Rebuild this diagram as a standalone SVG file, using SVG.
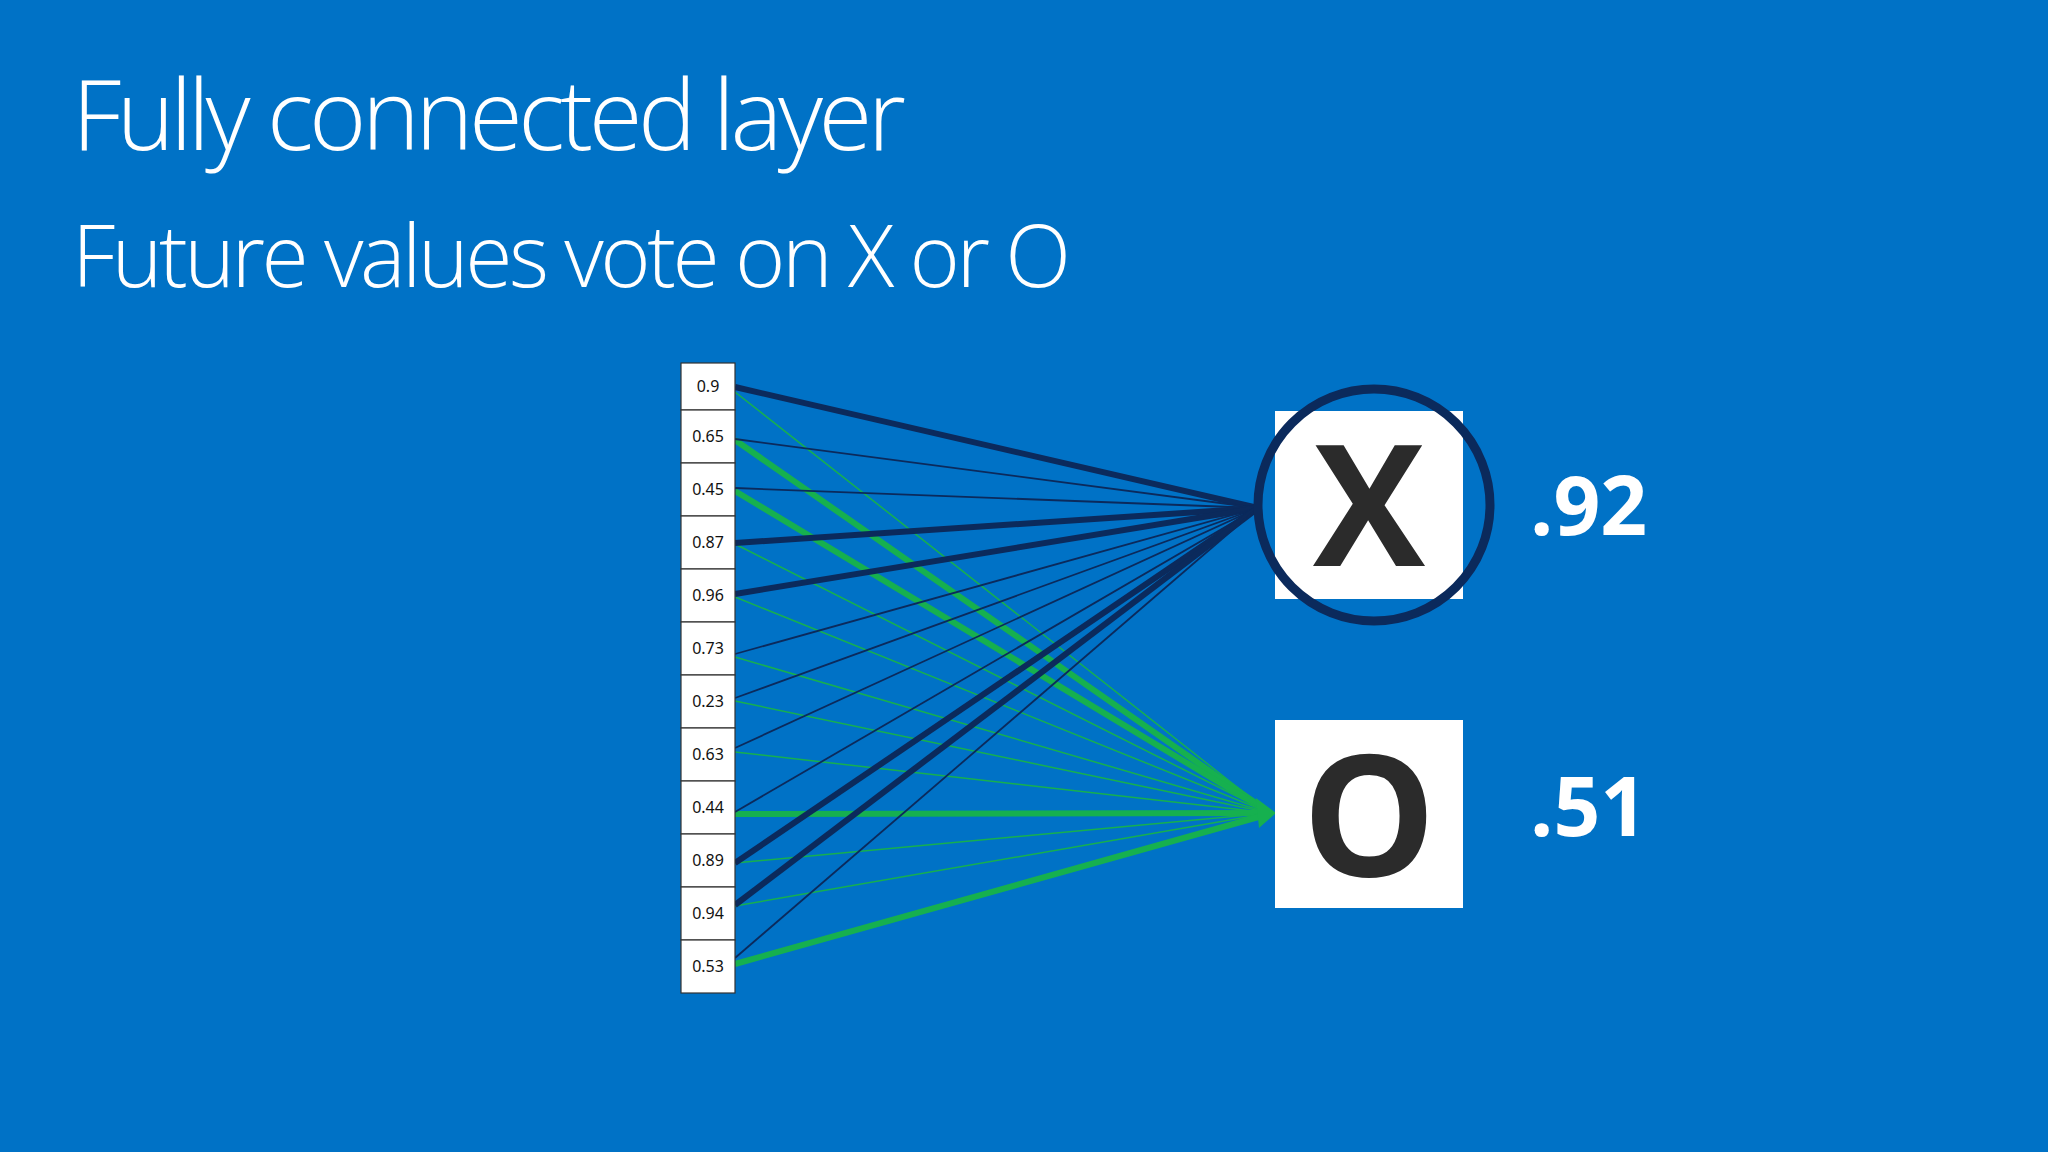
<svg xmlns="http://www.w3.org/2000/svg" width="2048" height="1152" viewBox="0 0 2048 1152">
<style>
.t{fill:#fff;font-family:"Open Sans","Liberation Sans",sans-serif;font-weight:300}
.c{fill:#fff;stroke:#333;stroke-width:1.2}
.cl{font-family:"Noto Sans","Liberation Sans",sans-serif;font-size:16px;fill:#111;text-anchor:middle}
.d{stroke:#0b2a5c;stroke-width:1.8;fill:none}
.D{stroke:#0b2a5c;stroke-width:6;fill:none}
.g{stroke:#16b04f;stroke-width:1.5;fill:none}
.G{stroke:#16b04f;stroke-width:6;fill:none}
.big{font-family:"Open Sans","Liberation Sans",sans-serif;font-weight:bold;font-size:168px;fill:#2b2b2b;text-anchor:middle}
.v{font-family:"Open Sans","Liberation Sans",sans-serif;font-weight:bold;font-size:82px;fill:#fff}
</style>
<rect width="2048" height="1152" fill="#0072c6"/>
<text class="t" x="72" y="150" font-size="98" textLength="834">Fully connected layer</text>
<text class="t" x="72" y="287" font-size="86" textLength="999">Future values vote on X or O</text>
<g id="connectors">
<line class="g" x1="735" y1="392" x2="1270" y2="813"/>
<line class="G" x1="735" y1="440" x2="1270" y2="813"/>
<line class="G" x1="735" y1="491" x2="1270" y2="813"/>
<line class="g" x1="735" y1="544" x2="1270" y2="813"/>
<line class="g" x1="735" y1="597" x2="1270" y2="813"/>
<line class="g" x1="735" y1="657" x2="1270" y2="813"/>
<line class="g" x1="735" y1="701" x2="1270" y2="813"/>
<line class="g" x1="735" y1="752" x2="1270" y2="813"/>
<line class="G" x1="735" y1="814" x2="1260" y2="813"/>
<line class="g" x1="735" y1="863" x2="1270" y2="813"/>
<line class="g" x1="735" y1="906" x2="1270" y2="813"/>
<line class="G" x1="735" y1="964" x2="1262" y2="816"/>
<polygon points="1276,813 1256,798 1259,828" fill="#16b04f"/>
<line class="D" x1="735" y1="387" x2="1258" y2="508"/>
<line class="d" x1="735" y1="439" x2="1258" y2="508"/>
<line class="d" x1="735" y1="488" x2="1258" y2="508"/>
<line class="D" x1="735" y1="543" x2="1258" y2="508"/>
<line class="D" x1="735" y1="594" x2="1258" y2="508"/>
<line class="d" x1="735" y1="654" x2="1258" y2="508"/>
<line class="d" x1="735" y1="698" x2="1258" y2="508"/>
<line class="d" x1="735" y1="748" x2="1258" y2="508"/>
<line class="d" x1="735" y1="812" x2="1258" y2="508"/>
<line class="D" x1="735" y1="863" x2="1258" y2="508"/>
<line class="D" x1="735" y1="905" x2="1258" y2="508"/>
<line class="d" x1="735" y1="958" x2="1258" y2="508"/>
</g>
<g id="cells">
<rect class="c" x="681" y="363" width="54" height="47"/><text class="cl" x="708" y="392">0.9</text>
<rect class="c" x="681" y="410" width="54" height="53"/><text class="cl" x="708" y="442">0.65</text>
<rect class="c" x="681" y="463" width="54" height="53"/><text class="cl" x="708" y="495">0.45</text>
<rect class="c" x="681" y="516" width="54" height="53"/><text class="cl" x="708" y="548">0.87</text>
<rect class="c" x="681" y="569" width="54" height="53"/><text class="cl" x="708" y="601">0.96</text>
<rect class="c" x="681" y="622" width="54" height="53"/><text class="cl" x="708" y="654">0.73</text>
<rect class="c" x="681" y="675" width="54" height="53"/><text class="cl" x="708" y="707">0.23</text>
<rect class="c" x="681" y="728" width="54" height="53"/><text class="cl" x="708" y="760">0.63</text>
<rect class="c" x="681" y="781" width="54" height="53"/><text class="cl" x="708" y="813">0.44</text>
<rect class="c" x="681" y="834" width="54" height="53"/><text class="cl" x="708" y="866">0.89</text>
<rect class="c" x="681" y="887" width="54" height="53"/><text class="cl" x="708" y="919">0.94</text>
<rect class="c" x="681" y="940" width="54" height="53"/><text class="cl" x="708" y="972">0.53</text>
</g>
<g id="nodeX">
<rect x="1275" y="411" width="188" height="188" fill="#fff"/>
<text class="big" x="1369" y="566">X</text>
<circle cx="1374" cy="505" r="116" fill="none" stroke="#0b2a5c" stroke-width="9"/>
<text class="v" x="1530" y="535">.92</text>
</g>
<g id="nodeO">
<rect x="1275" y="720" width="188" height="188" fill="#fff"/>
<text class="big" x="1369" y="876">O</text>
<text class="v" x="1530" y="836">.51</text>
</g>
</svg>
